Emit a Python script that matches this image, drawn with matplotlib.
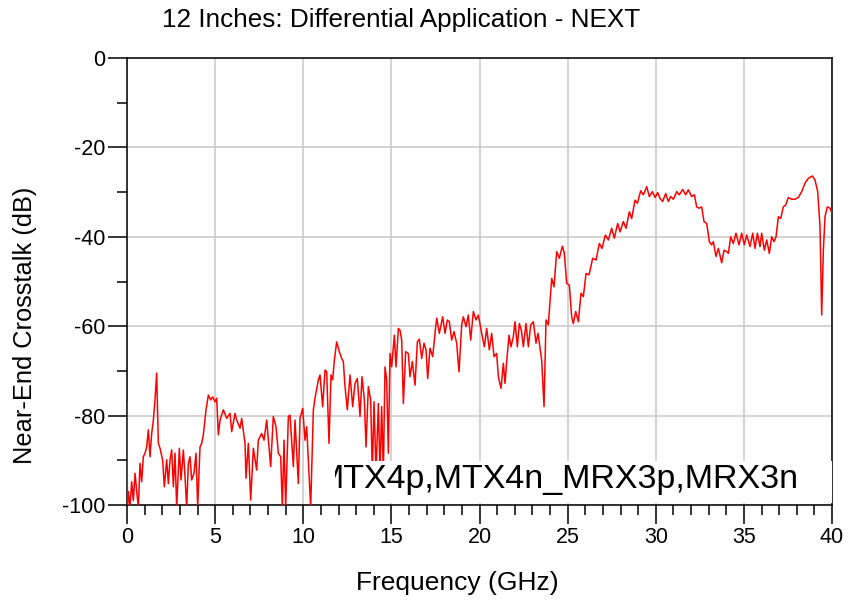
import matplotlib
matplotlib.use("Agg")
import matplotlib.pyplot as plt
from matplotlib.patches import Rectangle
from matplotlib.ticker import MultipleLocator
from matplotlib.transforms import Bbox, TransformedBbox

# (frequency GHz, NEXT dB)
band_low = [
    (0.0, -77), (0.02, -100.5), (0.076, -97), (0.17, -100.5), (0.265, -94.8), (0.36, -99),
    (0.454, -92.9), (0.55, -97), (0.643, -100.5), (0.738, -90.7), (0.832, -94.8), (0.927, -89.2),
    (1.021, -88.4), (1.116, -87.0), (1.21, -83.2), (1.305, -89.2), (1.40, -84.0), (1.494, -81.0),
    (1.589, -76.5), (1.683, -70.5), (1.778, -86.2), (1.872, -87.3), (2.02, -89.9), (2.118, -95.9),
    (2.25, -89.9), (2.345, -95.2), (2.44, -89.9), (2.534, -87.7), (2.629, -95.9), (2.723, -88.4),
    (2.818, -100.5), (2.969, -87.3), (3.064, -94.4), (3.196, -87.7), (3.291, -93.7), (3.385, -100.5),
    (3.48, -90.7), (3.574, -89.2), (3.669, -94.4), (3.80, -92.9), (3.915, -88.4), (4.01, -100.5),
    (4.142, -87.0), (4.236, -86.2), (4.331, -84.3), (4.482, -78.7), (4.615, -75.4), (4.747, -76.5),
    (4.86, -75.8), (4.993, -76.9), (5.087, -76.1), (5.182, -84.3), (5.277, -81.0), (5.466, -78.7),
    (5.655, -80.6), (5.844, -79.5), (5.94, -83.6), (6.128, -79.5), (6.222, -81.0), (6.411, -82.8),
    (6.506, -80.6), (6.695, -86.2), (6.752, -94.0), (6.884, -86.2), (7.017, -98.9), (7.168, -87.3),
    (7.357, -92.2), (7.45, -85.5), (7.64, -84.0), (7.773, -85.5), (7.925, -81.0), (8.151, -91.4),
    (8.30, -80.2), (8.454, -82.5), (8.586, -88.4), (8.719, -89.2), (8.813, -100.5), (8.908, -85.5),
    (9.002, -100.5), (9.154, -80.2), (9.248, -79.9), (9.437, -91.4), (9.532, -81.0), (9.721, -95.2),
    (9.816, -80.6), (9.967, -78.4), (10.099, -85.5), (10.194, -82.5), (10.421, -100.5), (10.572, -78.7),
    (10.667, -76.1), (10.856, -72.0), (10.95, -70.9),
]

band_mid = [
    (11.10, -78.0), (11.234, -69.8), (11.329, -70.2), (11.461, -86.2), (11.574, -70.9), (11.669, -72.0),
    (11.763, -67.6), (11.896, -63.5), (12.047, -65.7), (12.18, -67.2), (12.274, -67.9), (12.369, -73.5),
    (12.501, -78.7), (12.652, -70.9), (12.804, -78.0), (12.936, -72.8), (13.068, -71.7), (13.22, -80.2),
    (13.333, -71.3), (13.466, -76.5), (13.56, -87.0), (13.693, -73.5), (13.825, -76.5), (13.92, -93.0),
    (14.014, -76.9), (14.128, -93.0), (14.26, -77.3), (14.355, -93.0), (14.449, -78.0), (14.544, -93.0),
    (14.638, -69.1), (14.733, -72.0), (14.827, -88.4), (14.922, -66.1), (15.017, -69.1), (15.168, -62.0),
    (15.262, -69.1), (15.395, -60.5), (15.489, -60.9), (15.584, -63.1), (15.679, -77.3), (15.811, -65.7),
    (15.962, -66.1), (16.057, -71.3), (16.189, -67.9), (16.34, -73.2), (16.473, -63.5), (16.586, -62.9),
    (16.719, -67.2), (16.851, -63.8), (16.965, -65.3), (17.059, -71.7), (17.191, -64.9), (17.343, -66.8),
    (17.475, -61.6), (17.57, -58.2), (17.721, -61.6), (17.91, -57.9), (18.043, -61.6), (18.175, -58.6),
    (18.288, -59.0), (18.421, -63.1), (18.553, -61.2), (18.704, -63.8), (18.837, -70.2), (18.988, -59.7),
    (19.083, -57.9), (19.234, -60.1), (19.366, -57.5), (19.499, -63.1), (19.65, -56.7), (19.801, -58.6),
    (19.934, -57.5), (20.123, -61.6), (20.274, -64.6), (20.407, -60.5), (20.558, -65.3), (20.69, -61.6),
    (20.823, -66.8), (20.974, -66.1), (21.069, -71.3), (21.22, -73.9), (21.352, -68.3), (21.447, -72.8),
    (21.541, -67.9), (21.674, -62.0), (21.787, -64.6), (21.92, -62.3), (22.014, -59.0), (22.147, -64.6),
    (22.26, -59.4), (22.374, -60.9), (22.487, -64.6), (22.638, -59.4), (22.771, -64.6), (22.903, -59.7),
    (23.054, -59.0), (23.206, -63.8), (23.319, -61.6), (23.433, -64.9), (23.527, -67.6), (23.66, -78.0),
    (23.773, -58.6), (23.905, -59.7),
]

band_high = [
    (24.095, -49.3), (24.227, -51.2), (24.378, -43.3), (24.529, -44.8), (24.70, -42.1), (24.813, -43.7),
    (24.946, -50.4), (25.097, -50.8), (25.229, -57.9), (25.324, -59.4), (25.456, -56.7), (25.608, -59.0),
    (25.759, -52.6), (25.891, -53.4), (26.043, -48.2), (26.213, -48.5), (26.421, -44.8), (26.61, -45.2),
    (26.799, -41.5), (26.95, -42.6), (27.14, -39.6), (27.31, -40.7), (27.499, -38.1), (27.65, -40.3),
    (27.839, -37.0), (27.972, -38.9), (28.161, -36.6), (28.312, -38.1), (28.501, -34.4), (28.634, -35.9),
    (28.823, -31.8), (28.955, -32.5), (29.144, -29.7), (29.296, -30.6), (29.485, -28.8), (29.636, -31.0),
    (29.806, -29.9), (29.957, -31.2), (30.109, -30.1), (30.241, -31.4), (30.392, -32.1), (30.563, -30.3),
    (30.714, -32.1), (30.846, -31.0), (30.998, -31.6), (31.187, -29.9), (31.338, -30.6), (31.527, -29.4),
    (31.697, -30.6), (31.849, -29.5), (32.038, -31.0), (32.189, -30.6), (32.322, -33.3), (32.454, -33.6),
    (32.605, -33.3), (32.738, -36.6), (32.889, -37.0), (33.04, -41.1), (33.172, -41.8), (33.267, -41.1),
    (33.418, -44.4), (33.551, -42.6), (33.74, -45.8), (33.872, -43.0), (34.024, -43.3), (34.118, -43.7),
    (34.251, -40.0), (34.402, -41.5), (34.553, -39.2), (34.723, -41.8), (34.875, -39.2), (35.026, -41.8),
    (35.158, -39.6), (35.348, -42.2), (35.499, -39.2), (35.631, -42.6), (35.764, -39.2), (35.915, -42.2),
    (36.009, -39.2), (36.161, -43.0), (36.293, -40.7), (36.444, -43.7), (36.577, -40.0), (36.709, -41.1),
    (36.823, -40.0), (36.955, -35.5), (37.087, -35.9), (37.239, -33.3), (37.371, -32.9), (37.522, -31.2),
    (37.711, -31.6), (37.901, -31.6), (38.09, -31.2), (38.279, -29.9), (38.468, -28.0), (38.657, -26.9),
    (38.884, -26.4), (39.035, -27.3), (39.187, -29.9), (39.319, -37.7), (39.414, -57.5), (39.508, -43.0),
    (39.603, -35.5), (39.735, -33.3), (39.887, -33.6), (40.076, -35.5),
]

title = "12 Inches: Differential Application - NEXT"
x_label = "Frequency (GHz)"
y_label = "Near-End Crosstalk (dB)"
trace_name = "MTX4p,MTX4n_MRX3p,MRX3n"

points = band_low + band_mid + band_high
freq = [p[0] for p in points]
next_db = [p[1] for p in points]

plt.rcParams['font.family'] = ['Liberation Sans', 'DejaVu Sans']
plt.rcParams['axes.unicode_minus'] = False

fig = plt.figure(figsize=(8.49, 6.01), dpi=100)
ax = fig.add_axes([0.1496, 0.1597, 0.8304, 0.7438])

ax.plot(freq, next_db, color='#ff0000', lw=1.1, zorder=3)
ax.set_xlim(0, 40)
ax.set_ylim(-100, 0)

ax.xaxis.set_major_locator(MultipleLocator(5))
ax.xaxis.set_minor_locator(MultipleLocator(1))
ax.yaxis.set_major_locator(MultipleLocator(20))
ax.yaxis.set_minor_locator(MultipleLocator(10))
ax.grid(True, which='major', color='#c8c8c8', lw=1.1)
ax.set_axisbelow(True)
ax.tick_params(which='major', direction='out', length=13.5, width=1.1,
               labelsize=15.5, pad=2, colors='black')
ax.tick_params(which='minor', direction='out', length=7, width=1.1)
for s in ax.spines.values():
    s.set_linewidth(1.1)
    s.set_color('black')

# trace name box, text clipped at its left edge
box = Rectangle((0.295, 0.004), 0.705, 0.094, transform=ax.transAxes,
                facecolor='white', edgecolor='none', zorder=4)
ax.add_patch(box)
txt = ax.text(0.952, 0.038, trace_name, transform=ax.transAxes, ha='right',
              va='baseline', fontsize=24.5, zorder=5, clip_on=True)
txt.set_clip_box(TransformedBbox(Bbox([[0.295, 0.0], [1.0, 0.098]]), ax.transAxes))

fig.text(0.1908, 0.955, title, fontsize=18.8, ha='left', va='baseline')
fig.text(0.539, 0.0183, x_label, fontsize=19, ha='center', va='baseline')
fig.text(0.0294, 0.459, y_label, fontsize=18.3, rotation=90, ha='center', va='center')

fig.savefig('out.png', dpi=100)
